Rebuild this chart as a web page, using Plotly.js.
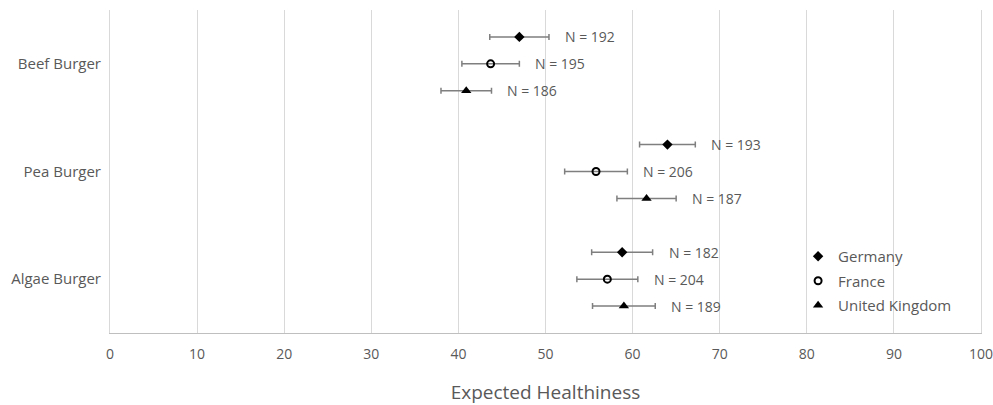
<!DOCTYPE html>
<html>
<head>
<meta charset="utf-8">
<script src="https://cdn.plot.ly/plotly-3.0.1.min.js"></script>
<style>html,body{margin:0;padding:0;background:#fff;}#chart{width:993px;height:405px;}</style>
</head>
<body>
<div id="chart"></div>
<script>
// Data
const categories = ["Beef Burger", "Pea Burger", "Algae Burger"];
const countries = ["Germany", "France", "United Kingdom"];
const germanyMean = [47.0, 64.0, 58.8];
const germanyErr  = [3.4, 3.2, 3.5];
const germanyN    = [192, 193, 182];
const franceMean  = [43.7, 55.8, 57.1];
const franceErr   = [3.3, 3.6, 3.5];
const franceN     = [195, 206, 204];
const ukMean      = [40.9, 61.6, 59.0];
const ukErr       = [2.9, 3.4, 3.6];
const ukN         = [186, 187, 189];
const xTicks      = [0, 10, 20, 30, 40, 50, 60, 70, 80, 90, 100];

const textColor = "#595959";
const fontFam = "Open Sans, Lato, sans-serif";

const series = [
  {name: countries[0], mean: germanyMean, err: germanyErr, n: germanyN, offset: -0.25,
   marker: {symbol: "diamond", size: 8, color: "#000"}},
  {name: countries[1], mean: franceMean, err: franceErr, n: franceN, offset: 0,
   marker: {symbol: "circle-open", size: 7, color: "#000", line: {width: 2, color: "#000"}}},
  {name: countries[2], mean: ukMean, err: ukErr, n: ukN, offset: 0.25,
   marker: {symbol: "triangle-up", size: 9, color: "#000"}}
];

const traces = [];
const annotations = [];
series.forEach((s, k) => {
  const ys = categories.map((c, i) => i + s.offset);
  traces.push({
    type: "scatter", mode: "markers", name: s.name, legendgroup: "g" + k,
    x: s.mean, y: ys,
    marker: s.marker,
    error_x: {type: "data", array: s.err, visible: true, color: "#7f7f7f", thickness: 1.5, width: 3},
    hoverinfo: "x+name", cliponaxis: false
  });
  s.mean.forEach((m, i) => {
    annotations.push({
      x: m + s.err[i] + 1.6, y: ys[i], xref: "x", yref: "y",
      text: "N = " + s.n[i], showarrow: false, xanchor: "left", yanchor: "middle",
      font: {family: fontFam, size: 14, color: textColor}
    });
  });
});

const layout = {
  width: 993, height: 405,
  margin: {l: 110, r: 12, t: 10, b: 72},
  paper_bgcolor: "#fff", plot_bgcolor: "#fff",
  font: {family: fontFam, color: textColor, size: 14},
  showlegend: true,
  legend: {x: 0.79, y: 0.288, xanchor: "left", yanchor: "top",
           font: {family: fontFam, size: 15, color: textColor},
           bgcolor: "rgba(0,0,0,0)", itemwidth: 30, tracegroupgap: 2},
  xaxis: {range: [0, 100], tickvals: xTicks, showgrid: true, gridcolor: "#d9d9d9", gridwidth: 1,
          zeroline: false, showline: true, linecolor: "#bfbfbf", linewidth: 1, ticks: "",
          ticklabelstandoff: 8, ticklabeloverflow: "allow",
          tickfont: {family: fontFam, size: 14, color: textColor},
          title: {text: "Expected Healthiness", font: {family: fontFam, size: 19, color: textColor}, standoff: 24}},
  yaxis: {range: [2.5, -0.5], tickvals: [0, 1, 2], ticktext: categories, showgrid: false,
          zeroline: false, showline: true, mirror: true, linecolor: "#d9d9d9", linewidth: 1, ticks: "",
          ticklabelstandoff: 5,
          tickfont: {family: fontFam, size: 15, color: textColor}},
  annotations: annotations
};

Plotly.newPlot("chart", traces, layout, {displayModeBar: false, staticPlot: true});
</script>
</body>
</html>
